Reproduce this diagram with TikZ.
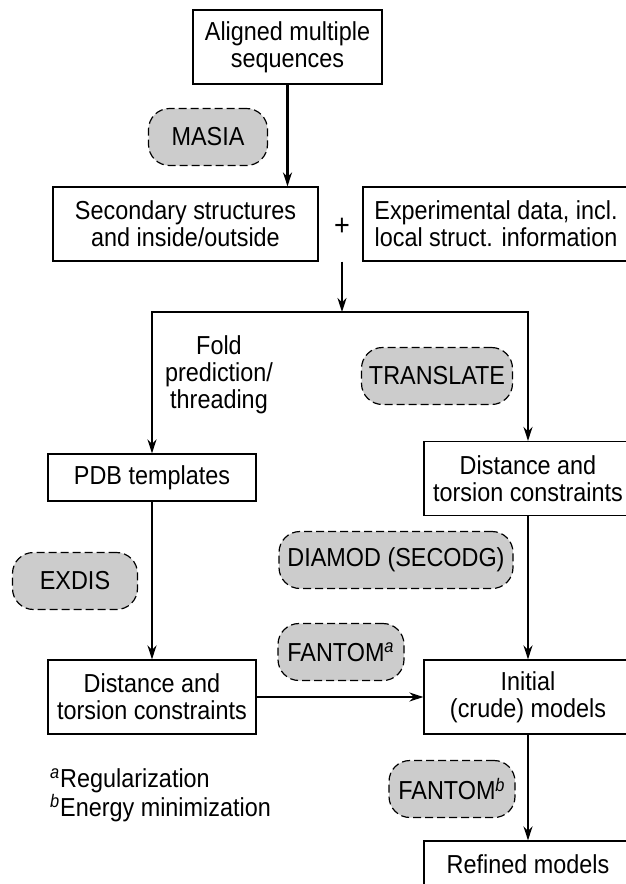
\documentclass[tikz,border=0pt]{standalone}
\usepackage{fontspec}
\setmainfont{Liberation Sans}[FakeStretch=0.9]
\usetikzlibrary{positioning,arrows.meta}

\begin{document}
\begin{tikzpicture}[x=0.5pt,y=-0.5pt,>={Stealth[length=7pt,width=4.5pt]},
  font=\fontsize{13pt}{13.5pt}\selectfont,
  box/.style={draw,line width=0.6pt,align=center,inner sep=0pt,
    minimum width=104pt,minimum height=37pt},
  tool/.style={draw,line width=0.6pt,dash pattern=on 4pt off 2pt,
    fill=gray!40,rounded corners=10.5pt,inner sep=0pt,
    minimum height=28.5pt,minimum width=#1},
  flow/.style={->,line width=1.1pt}]
  \useasboundingbox (0,0) rectangle (626,884);
  \clip (0,0) rectangle (626,884);

  % input
  \node[box,minimum width=94.5pt] (seq) at (287.5,47) {Aligned multiple\\sequences};
  \node[box,minimum width=132.5pt] (sec) at (185.5,224)
    {Secondary structures\\and inside/outside};
  \node[font=\fontsize{15pt}{15pt}\selectfont] (plus) at (342,227) {+};
  \node[box,minimum width=133pt] (exp) at (496,224)
    {Experimental data, incl.\\local struct. information};
  \coordinate (split) at (342,312);

  % two branches
  \node[box,minimum height=23.5pt] (pdb) at (152,477.5) {PDB templates};
  \node[box] (dist2) at (528,478.5) {Distance and\\torsion constraints};
  \node[box] (dist1) at (152,697) {Distance and\\torsion constraints};
  \node[box] (init) at (528,697) {Initial\\(crude) models};
  \node[box,minimum height=23.5pt] (refined) at (528,864.5) {Refined models};

  % programs
  \node[tool=59.5pt] (masia) at (208,137) {MASIA};
  \node[tool=75.5pt] (translate) at (437,376) {TRANSLATE};
  \node[tool=117pt] (diamod) at (396,560) {DIAMOD (SECODG)};
  \node[tool=62.5pt] (exdis) at (75,581) {EXDIS};
  \node[tool=63pt] (fantomA) at (341,652) {FANTOM\textsuperscript{\itshape a}};
  \node[tool=63pt] (fantomB) at (452,789) {FANTOM\textsuperscript{\itshape b}};

  \node[align=center] (fold) at (219,375) {Fold\\prediction/\\threading};

  % arrows
  \draw[flow] (seq.south) -- (seq.south |- sec.north);
  \draw[flow] (plus |- sec.south) -- (split);
  \draw[flow] (split) -| (pdb.north);
  \draw[flow] (split) -| (dist2.north);
  \draw[flow] (pdb) -- (dist1);
  \draw[flow] (dist2) -- (init);
  \draw[flow] (dist1) -- (init);
  \draw[flow] (init) -- (refined);

  % footnotes
  \node[align=left,anchor=west,font=\fontsize{13pt}{13pt}\selectfont] (notes) at (43,795)
    {\textsuperscript{\itshape a}Regularization\\\textsuperscript{\itshape b}Energy minimization};
\end{tikzpicture}
\end{document}
